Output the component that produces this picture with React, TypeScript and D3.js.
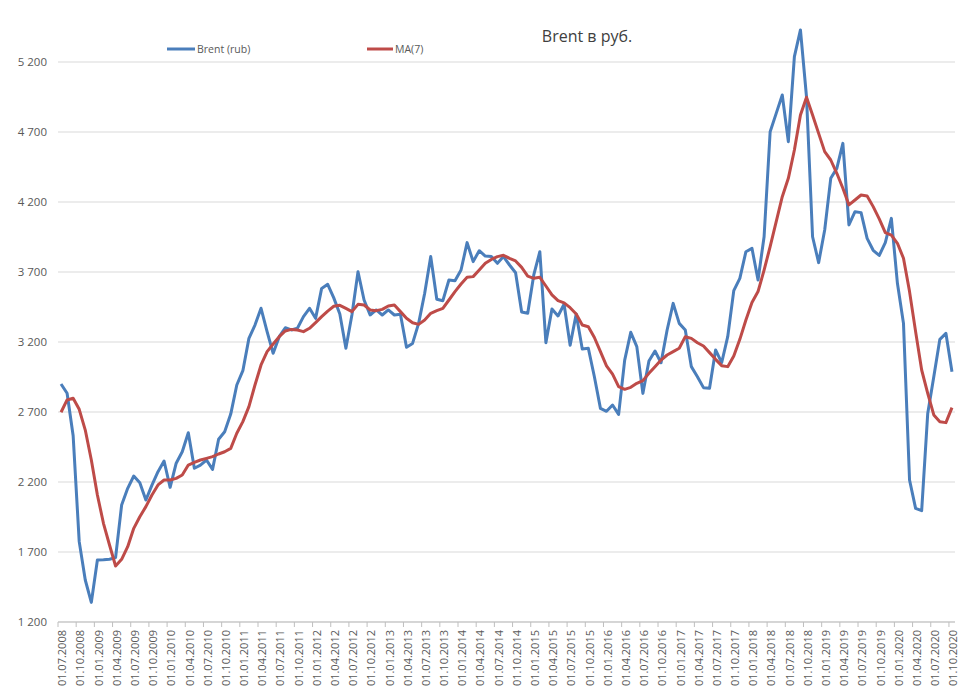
import React from 'react';
import * as d3 from 'd3';

// Brent в рублях, помесячно с 07.2008 по 10.2020
const brentRub = [
	2900, 2834, 2530, 1774, 1500, 1340, 1643, 1645, 1648, 1660,
	2036, 2155, 2243, 2195, 2071, 2178, 2274, 2350, 2162, 2334,
	2416, 2552, 2298, 2321, 2357, 2290, 2505, 2559, 2685, 2893,
	2995, 3226, 3321, 3441, 3274, 3119, 3238, 3302, 3286, 3298,
	3381, 3441, 3369, 3583, 3612, 3515, 3400, 3155, 3395, 3702,
	3500, 3393, 3429, 3393, 3429, 3393, 3398, 3162, 3190, 3333,
	3548, 3810, 3505, 3495, 3643, 3638, 3714, 3910, 3774, 3852,
	3814, 3810, 3762, 3810, 3750, 3695, 3414, 3405, 3679, 3845,
	3195, 3436, 3386, 3470, 3177, 3400, 3150, 3155, 2952, 2726,
	2705, 2750, 2683, 3071, 3269, 3167, 2833, 3064, 3136, 3052,
	3286, 3476, 3333, 3286, 3024, 2952, 2874, 2869, 3143, 3052,
	3238, 3567, 3655, 3845, 3869, 3643, 3952, 4702, 4833, 4964,
	4631, 5238, 5429, 4950, 3952, 3767, 4000, 4369, 4440, 4619,
	4036, 4131, 4124, 3940, 3855, 3818, 3910, 4083, 3619, 3333,
	2214, 2012, 1995, 2690, 2952, 3219, 3262, 2988,
];

const ma7 = [
	2698, 2786, 2798, 2719, 2571, 2357, 2107, 1905, 1750, 1600,
	1648, 1738, 1869, 1952, 2024, 2107, 2179, 2214, 2214, 2226,
	2250, 2321, 2340, 2357, 2369, 2381, 2400, 2416, 2440, 2548,
	2631, 2738, 2893, 3036, 3131, 3186, 3238, 3279, 3290, 3286,
	3274, 3298, 3338, 3381, 3421, 3455, 3462, 3440, 3417, 3469,
	3464, 3429, 3424, 3433, 3457, 3464, 3417, 3369, 3338, 3326,
	3357, 3405, 3424, 3440, 3500, 3560, 3614, 3662, 3667, 3714,
	3762, 3790, 3810, 3819, 3798, 3779, 3733, 3671, 3655, 3662,
	3600, 3536, 3495, 3480, 3445, 3400, 3321, 3309, 3232, 3131,
	3030, 2970, 2881, 2862, 2876, 2905, 2924, 2976, 3024, 3071,
	3107, 3131, 3155, 3238, 3226, 3195, 3171, 3124, 3076, 3031,
	3024, 3100, 3219, 3357, 3482, 3560, 3714, 3881, 4060, 4238,
	4369, 4571, 4821, 4948, 4821, 4690, 4560, 4500, 4405, 4298,
	4179, 4214, 4250, 4243, 4167, 4080, 3982, 3964, 3905, 3798,
	3560, 3274, 3000, 2833, 2679, 2631, 2624, 2731,
];

const tickLabels = [
	'01.07.2008', '01.10.2008',
	'01.01.2009', '01.04.2009', '01.07.2009', '01.10.2009',
	'01.01.2010', '01.04.2010', '01.07.2010', '01.10.2010',
	'01.01.2011', '01.04.2011', '01.07.2011', '01.10.2011',
	'01.01.2012', '01.04.2012', '01.07.2012', '01.10.2012',
	'01.01.2013', '01.04.2013', '01.07.2013', '01.10.2013',
	'01.01.2014', '01.04.2014', '01.07.2014', '01.10.2014',
	'01.01.2015', '01.04.2015', '01.07.2015', '01.10.2015',
	'01.01.2016', '01.04.2016', '01.07.2016', '01.10.2016',
	'01.01.2017', '01.04.2017', '01.07.2017', '01.10.2017',
	'01.01.2018', '01.04.2018', '01.07.2018', '01.10.2018',
	'01.01.2019', '01.04.2019', '01.07.2019', '01.10.2019',
	'01.01.2020', '01.04.2020', '01.07.2020', '01.10.2020',
];

const yTicks = [1200, 1700, 2200, 2700, 3200, 3700, 4200, 4700, 5200];

const seriesNames = ['Brent (rub)', 'MA(7)'];
const colors = { brent: '#4a7ebb', ma: '#be4b48' };

const width = 961;
const height = 693;
const plot = { left: 58, right: 955, top: 62, bottom: 622 };
const font = "'Open Sans', 'DejaVu Sans', sans-serif";
const textColor = '#595959';

export default function App() {
	const xScale = d3
		.scaleLinear()
		.domain([0, brentRub.length])
		.range([plot.left, plot.right]);

	const yScale = d3
		.scaleLinear()
		.domain([1200, 5200])
		.range([plot.bottom, plot.top]);

	const line = d3
		.line<number>()
		.x((_, i) => xScale(i + 0.5))
		.y((d) => yScale(d));

	const fmt = (v: number) => d3.format(',')(v).replace(',', ' ');

	return (
		<svg
			width={width}
			height={height}
			style={{ position: 'absolute', left: 0, top: 0, background: '#fff' }}
			fontFamily={font}
		>
			{/* сетка и подписи оси Y */}
			{yTicks.map((t) => (
				<g key={t}>
					<line
						x1={plot.left}
						x2={plot.right}
						y1={yScale(t)}
						y2={yScale(t)}
						stroke="#d9d9d9"
						strokeWidth={1}
					/>
					<text
						x={47}
						y={yScale(t)}
						dy="0.35em"
						textAnchor="end"
						fontSize={11.5}
						fill={textColor}
					>
						{fmt(t)}
					</text>
				</g>
			))}

			{/* ось X */}
			<line
				x1={plot.left}
				x2={plot.right}
				y1={plot.bottom}
				y2={plot.bottom}
				stroke="#bfbfbf"
			/>
			{tickLabels.map((lbl, k) => {
				const x = xScale(k * 3);
				return (
					<g key={lbl}>
						<line
							x1={x}
							x2={x}
							y1={plot.bottom}
							y2={plot.bottom + 5}
							stroke="#bfbfbf"
						/>
						<text
							transform={`translate(${x + 8.3},${plot.bottom + 8}) rotate(-90)`}
							textAnchor="end"
							fontSize={11}
							fill={textColor}
						>
							{lbl}
						</text>
					</g>
				);
			})}

			{/* линии */}
			<path
				d={line(brentRub) || ''}
				fill="none"
				stroke={colors.brent}
				strokeWidth={3}
				strokeLinejoin="round"
			/>
			<path
				d={line(ma7) || ''}
				fill="none"
				stroke={colors.ma}
				strokeWidth={3}
				strokeLinejoin="round"
			/>

			{/* легенда */}
			<line x1={167} x2={195} y1={49} y2={49} stroke={colors.brent} strokeWidth={3} />
			<text x={197} y={49} dy="0.35em" fontSize={10.5} fill={textColor}>
				{seriesNames[0]}
			</text>
			<line x1={367} x2={393} y1={49} y2={49} stroke={colors.ma} strokeWidth={3} />
			<text x={395} y={49} dy="0.35em" fontSize={10.5} fill={textColor}>
				{seriesNames[1]}
			</text>

			{/* заголовок */}
			<text x={587} y={42} textAnchor="middle" fontSize={16} fill="#404040">
				Brent в руб.
			</text>
		</svg>
	);
}
